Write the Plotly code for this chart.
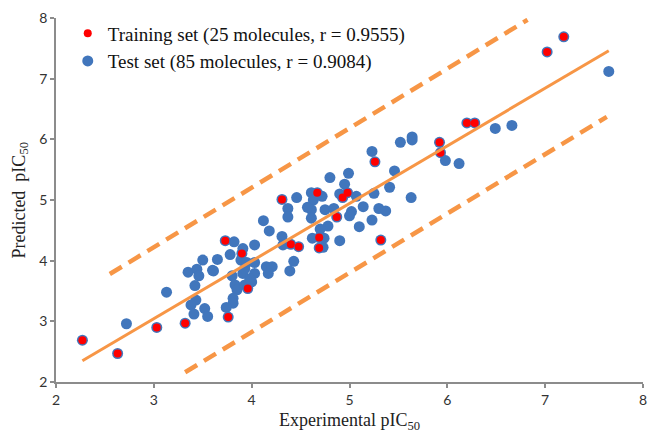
import plotly.graph_objects as go

# Training set (red)
train_x = [2.27, 2.63, 3.03, 3.32, 3.73, 3.90, 3.96, 3.76, 4.40, 4.48, 4.31, 4.67, 4.98,
           4.93, 5.26, 5.93, 5.92, 4.87, 4.69, 4.69, 5.32, 7.02, 7.19, 6.20, 6.28]
train_y = [2.69, 2.47, 2.90, 2.97, 4.33, 4.12, 3.54, 3.07, 4.27, 4.23, 5.01, 5.12, 5.12,
           5.04, 5.63, 5.78, 5.95, 4.72, 4.38, 4.21, 4.34, 7.44, 7.69, 6.27, 6.27]

# Test set (blue)
test_x = [2.72, 3.13, 3.35, 3.44, 3.46, 3.50, 3.61, 3.65, 3.82, 3.91, 3.78, 4.03, 3.42, 3.43,
          3.38, 3.41, 3.52, 3.55, 3.80, 3.83, 3.85, 3.91, 3.93, 3.81, 3.81, 3.74, 4.00, 4.03,
          3.89, 4.03, 4.12, 4.18, 4.31, 4.32, 4.43, 4.15, 4.21, 4.17, 4.39, 4.37, 4.37, 4.46,
          4.80, 4.99, 4.95, 4.61, 4.72, 4.63, 4.90, 5.07, 5.25, 5.46, 5.41, 5.63, 5.23, 5.98,
          4.61, 4.61, 4.75, 4.84, 5.02, 5.00, 5.14, 5.30, 5.37, 5.23, 5.10, 4.78, 4.70, 4.62,
          4.74, 4.90, 7.65, 6.49, 6.66, 6.12, 5.64, 5.64, 5.52, 3.95, 4.73, 3.93, 3.98, 4.57,
          3.60]
test_y = [2.96, 3.48, 3.81, 3.86, 3.75, 4.01, 3.83, 4.02, 4.31, 4.20, 4.10, 4.26, 3.59, 3.35,
          3.27, 3.12, 3.21, 3.08, 3.75, 3.60, 3.52, 3.79, 3.87, 3.38, 3.30, 3.23, 3.65, 3.79,
          4.01, 3.97, 4.66, 4.49, 4.40, 4.26, 3.99, 3.90, 3.90, 3.79, 3.83, 4.86, 4.72, 5.04,
          5.37, 5.44, 5.26, 5.12, 5.06, 5.00, 5.10, 5.06, 5.11, 5.48, 5.21, 5.04, 5.80, 5.65,
          4.84, 4.70, 4.84, 4.86, 4.81, 4.74, 4.89, 4.86, 4.82, 4.67, 4.56, 4.57, 4.52, 4.37,
          4.37, 4.33, 7.12, 6.18, 6.23, 5.60, 6.04, 5.99, 5.95, 3.97, 4.22, 3.60, 3.70, 4.88,
          3.84]

# Regression line and prediction bands
fit_x = [2.27, 7.65]
fit_y = [2.35, 7.46]
upper_x = [2.55, 6.82]
upper_y = [3.78, 7.97]
lower_x = [3.32, 7.63]
lower_y = [2.16, 6.37]

tick_vals = [2, 3, 4, 5, 6, 7, 8]
tick_text = ["2", "3", "4", "5", "6", "7", "8"]

orange = "#F79646"
blue = "#4176BC"
red = "#FF0000"

fig = go.Figure()

fig.add_trace(go.Scatter(x=test_x, y=test_y, mode="markers", showlegend=False,
                         marker=dict(size=11, color=blue), hoverinfo="skip"))
fig.add_trace(go.Scatter(x=train_x, y=train_y, mode="markers", showlegend=False,
                         marker=dict(size=11, color=blue), hoverinfo="skip"))
fig.add_trace(go.Scatter(x=train_x, y=train_y, mode="markers",
                         name="Training set (25 molecules, r = 0.9555)",
                         marker=dict(size=8, color=red)))
fig.add_trace(go.Scatter(x=[None], y=[None], mode="markers",
                         name="Test set (85 molecules, r = 0.9084)",
                         marker=dict(size=11, color=blue)))

fig.add_trace(go.Scatter(x=fit_x, y=fit_y, mode="lines", showlegend=False,
                         line=dict(color=orange, width=3)))
fig.add_trace(go.Scatter(x=upper_x, y=upper_y, mode="lines", showlegend=False,
                         line=dict(color=orange, width=4.5, dash="14px,8px")))
fig.add_trace(go.Scatter(x=lower_x, y=lower_y, mode="lines", showlegend=False,
                         line=dict(color=orange, width=4.5, dash="14px,8px")))

axis_common = dict(
    range=[2, 8], tickvals=tick_vals, ticktext=tick_text, automargin=False,
    showgrid=False, zeroline=False, showline=True, linecolor="#8c8c8c", linewidth=1.5,
    ticks="outside", ticklen=4, tickcolor="#8c8c8c", tickwidth=1.5,
    tickfont=dict(family="Lato, sans-serif", size=14, color="#333333"),
)

fig.update_layout(
    width=649, height=432,
    margin=dict(l=56, r=6, t=18, b=50, autoexpand=False),
    paper_bgcolor="white", plot_bgcolor="white",
    xaxis=dict(**axis_common),
    yaxis=dict(**axis_common),
    annotations=[
        dict(text="Experimental pIC<sub>50</sub>", x=0.5, y=-0.072, xref="paper", yref="paper",
             xanchor="center", yanchor="top", showarrow=False,
             font=dict(family="Liberation Serif, serif", size=18, color="#222")),
        dict(text="Predicted  pIC<sub>50</sub>", x=-0.039, y=0.5, xref="paper", yref="paper",
             xanchor="right", yanchor="middle", textangle=-90, showarrow=False,
             font=dict(family="Liberation Serif, serif", size=18, color="#222")),
    ],
    legend=dict(x=0.02, y=1.01, xanchor="left", yanchor="top",
                bgcolor="rgba(0,0,0,0)", tracegroupgap=0,
                font=dict(family="Liberation Serif, serif", size=19, color="#111")),
)

fig.write_html("out.html", config={"displayModeBar": False},
               post_script="document.body.style.margin='0';document.body.style.overflow='hidden';")
